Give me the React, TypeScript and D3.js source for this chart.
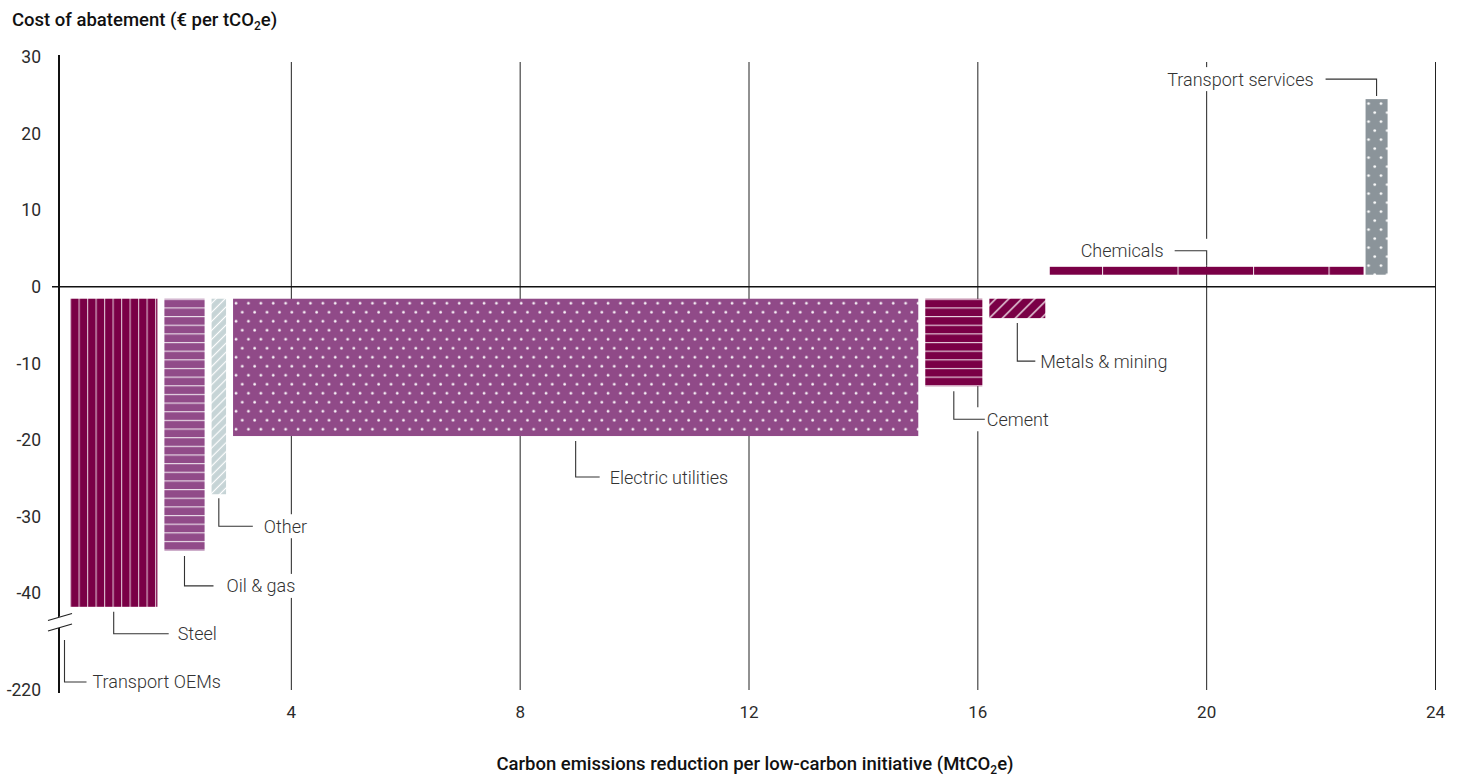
import React from "react";
import * as d3 from "d3";

const WIDTH = 1459;
const HEIGHT = 776;

// sectors, in the order they sit along the x axis
const SECTORS = [
  "Transport OEMs",
  "Steel",
  "Oil & gas",
  "Other",
  "Electric utilities",
  "Cement",
  "Metals & mining",
  "Chemicals",
  "Transport services",
];
// MtCO2e reduction (bar widths)
const REDUCTION = [0.07, 1.65, 0.825, 0.375, 12.1, 1.12, 1.1, 5.52, 0.42];
// € per tCO2e (bar heights)
const COST = [-220, -41.8, -34.5, -27.1, -19.5, -13.0, -4.1, 2.6, 24.5];

const Y_TICKS = [30, 20, 10, 0, -10, -20, -30, -40, -220];
const X_TICKS = [4, 8, 12, 16, 20, 24];

// fills
const FILL_KIND = ["vlines", "vlines", "hlines", "diag", "dots", "hlines", "diag", "seg", "dots"];
const FILL_BASE = ["#7a0046", "#7a0046", "#914b89", "#c6d4d6", "#904a88", "#7a0046", "#7a0046", "#7a0046", "#8b949a"];

// leader layout (px): start / elbow offset from bar end, horizontal length, gap to text
const LEADER_START = [-50, 5, 5, 4, 5, 5, 5, 1, 3];
const LEADER_ELBOW = [-8, 27, 35, 32, 41, 33, 43, 16, 20];
const LEADER_LEN = [22, 55, 29, 34, 24, 31, 18, 32, 51];
const TEXT_GAP = [6, 9, 13, 11, 10, 2, 5, 11, 12];

const FONT = "Roboto, 'Noto Sans', sans-serif";
const INK = "#2b2b2b";
const BAR_GAP = 12;
const LABEL_SIZE = 18;

function textWidth(s: string) {
  const ctx = document.createElement("canvas").getContext("2d");
  if (!ctx) return s.length * 8;
  ctx.font = `300 ${LABEL_SIZE}px Roboto`;
  return ctx.measureText(s).width;
}

function Pattern({ id, kind, base, x0, y0 }: { id: string; kind: string; base: string; x0: number; y0: number }) {
  const line = { stroke: "#fff", strokeOpacity: 0.75, strokeWidth: 1.1 };
  if (kind === "vlines") {
    return (
      <pattern id={id} width={8.5} height={10} patternUnits="userSpaceOnUse" x={x0} y={0}>
        <rect width={8.5} height={10} fill={base} />
        <line x1={0.6} x2={0.6} y1={0} y2={10} {...line} />
      </pattern>
    );
  }
  if (kind === "hlines") {
    return (
      <pattern id={id} width={20} height={8.65} patternUnits="userSpaceOnUse" x={0} y={y0}>
        <rect width={20} height={8.65} fill={base} />
        <line x1={0} x2={20} y1={0.6} y2={0.6} {...line} strokeOpacity={0.85} />
      </pattern>
    );
  }
  if (kind === "diag") {
    const s = base === "#7a0046" ? 9.2 : 6.4;
    return (
      <pattern id={id} width={s} height={s} patternUnits="userSpaceOnUse" patternTransform={`translate(${x0},${y0}) rotate(45)`}>
        <rect width={s} height={s} fill={base} />
        <line x1={s / 2} x2={s / 2} y1={0} y2={s} stroke="#fff" strokeWidth={1.2} />
      </pattern>
    );
  }
  if (kind === "seg") {
    return (
      <pattern id={id} width={75.5} height={10} patternUnits="userSpaceOnUse" x={1102} y={0}>
        <rect width={75.5} height={10} fill={base} />
        <line x1={0.5} x2={0.5} y1={0} y2={10} stroke="#fff" strokeOpacity={0.85} strokeWidth={1.2} />
      </pattern>
    );
  }
  // dots
  return (
    <pattern id={id} width={12.4} height={18} patternUnits="userSpaceOnUse" x={x0} y={y0}>
      <rect width={12.4} height={18} fill={base} />
      <circle cx={3} cy={4.5} r={1.35} fill="#fff" />
      <circle cx={9.2} cy={13.5} r={1.35} fill="#fff" />
    </pattern>
  );
}

export default function App() {
  const x = d3.scaleLinear().domain([0, 24]).range([62.5, 1435.5]);
  // broken axis: linear from 30 to -45, compressed down to -220
  const y = d3.scaleLinear().domain([-220, -45, 30]).range([690, 631.3, 57]);
  const y0 = y(0);

  const cum = d3.cumsum(REDUCTION);
  const bars = SECTORS.map((name, i) => {
    const a = i === 0 ? 0 : cum[i - 1];
    const b = cum[i];
    const v = COST[i];
    const inset = v < 0 ? 3.5 : 1;
    const xa = x(a) + inset;
    const xb = x(b) - inset;
    const top = v < 0 ? y0 + BAR_GAP : y(v);
    const bottom = v < 0 ? y(v) : y0 - BAR_GAP;
    return { name, i, v, xa, xb, w: Math.max(0, xb - xa), top, bottom, cx: (x(a) + x(b)) / 2 };
  });

  const labels = bars.map((d) => {
    const neg = d.v < 0;
    const end = neg ? d.bottom : d.top;
    const dir = neg ? 1 : -1;
    const ys = end + dir * LEADER_START[d.i];
    const ye = end + dir * LEADER_ELBOW[d.i];
    const xe = d.cx + dir * LEADER_LEN[d.i];
    const tx = xe + dir * TEXT_GAP[d.i];
    const tw = textWidth(d.name);
    return { ...d, neg, ys, ye, xe, tx, tw };
  });

  return (
    <div style={{ position: "absolute", left: 0, top: 0 }}>
      <svg width={WIDTH} height={HEIGHT} style={{ display: "block", background: "#fff" }}>
        <defs>
          {bars.map((d) => (
            <Pattern key={d.i} id={`p${d.i}`} kind={FILL_KIND[d.i]} base={FILL_BASE[d.i]} x0={d.xa} y0={d.top} />
          ))}
        </defs>

        {/* axis titles */}
        <text x={12} y={26} fontFamily={FONT} fontWeight={500} fontSize={18.5} fill="#111">
          Cost of abatement (€ per tCO<tspan fontSize={12} dy={4}>2</tspan>
          <tspan dy={-4}>e)</tspan>
        </text>
        <text x={755} y={770} textAnchor="middle" fontFamily={FONT} fontWeight={500} fontSize={18.5} fill="#111">
          Carbon emissions reduction per low-carbon initiative (MtCO<tspan fontSize={12} dy={4}>2</tspan>
          <tspan dy={-4}>e)</tspan>
        </text>

        {/* vertical gridlines */}
        {X_TICKS.map((t) => (
          <line key={t} x1={x(t)} x2={x(t)} y1={62} y2={690} stroke="#222" strokeWidth={1} />
        ))}
        {X_TICKS.map((t) => (
          <text key={`xt${t}`} x={x(t)} y={718} textAnchor="middle" fontFamily={FONT} fontSize={17} fill={INK}>
            {t}
          </text>
        ))}

        {/* label backgrounds cut the gridlines */}
        {labels.map((d) => {
          const l = d.neg ? d.cx - 4 : d.tx - d.tw - 4;
          const r = d.neg ? d.tx + d.tw + 4 : d.cx + 4;
          return (
            <g key={`bg${d.i}`} fill="#fff">
              <rect x={l} y={d.ye - 12} width={r - l} height={24} />
              <rect x={d.cx - 5} y={Math.min(d.ys, d.ye)} width={10} height={Math.abs(d.ye - d.ys)} />
            </g>
          );
        })}

        {/* bars */}
        {bars.map((d) =>
          d.w > 0 ? (
            <rect key={`b${d.i}`} x={d.xa} y={d.top} width={d.w} height={d.bottom - d.top} fill={`url(#p${d.i})`} />
          ) : null
        )}

        {/* y axis */}
        <line x1={59} x2={59} y1={55} y2={693} stroke="#111" strokeWidth={2} />
        <line x1={52} x2={x(24)} y1={y0} y2={y0} stroke="#111" strokeWidth={1.6} />
        <polygon points="48,620 72,613 72,624 48,631" fill="#fff" />
        <line x1={48} y1={620.5} x2={72} y2={613.5} stroke="#222" strokeWidth={1.3} />
        <line x1={48} y1={631} x2={72} y2={624} stroke="#222" strokeWidth={1.3} />
        {Y_TICKS.map((t) => (
          <text key={`yt${t}`} x={41} y={y(t)} dy="0.36em" textAnchor="end" fontFamily={FONT} fontSize={17.5} fill={INK}>
            {t}
          </text>
        ))}

        {/* leaders and labels */}
        {labels.map((d) => (
          <g key={`l${d.i}`}>
            <path d={`M${d.cx},${d.ys}V${d.ye}H${d.xe}`} fill="none" stroke="#333" strokeWidth={1.1} />
            <text
              x={d.tx}
              y={d.ye}
              dy="0.36em"
              textAnchor={d.neg ? "start" : "end"}
              fontFamily={FONT}
              fontWeight={300}
              fontSize={LABEL_SIZE}
              fill="#333"
            >
              {d.name}
            </text>
          </g>
        ))}
      </svg>
    </div>
  );
}
